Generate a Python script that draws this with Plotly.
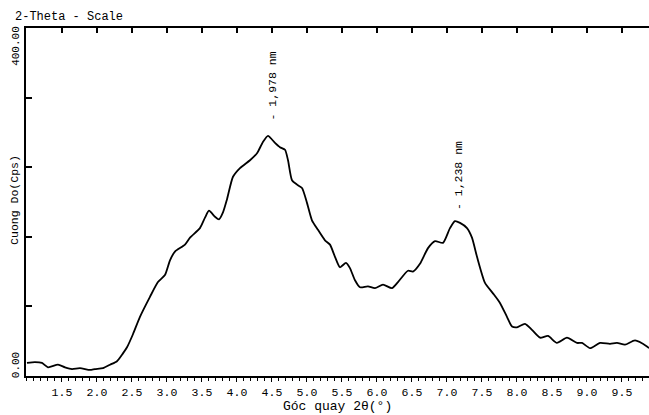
import plotly.graph_objects as go

two_theta = [1.0, 1.114, 1.214, 1.30, 1.443, 1.543, 1.643, 1.757, 1.90, 1.971, 2.086, 2.186, 2.286,
             2.371, 2.429, 2.514, 2.614, 2.757, 2.871, 2.971, 3.043, 3.114, 3.257, 3.329, 3.471,
             3.543, 3.60, 3.686, 3.743, 3.80, 3.857, 3.943, 4.043, 4.186, 4.286, 4.371, 4.443,
             4.543, 4.614, 4.686, 4.729, 4.786, 4.857, 4.929, 5.0, 5.071, 5.157, 5.257, 5.329,
             5.40, 5.471, 5.557, 5.614, 5.686, 5.757, 5.871, 5.971, 6.086, 6.214, 6.30, 6.443,
             6.514, 6.614, 6.729, 6.829, 6.943, 7.043, 7.114, 7.186, 7.286, 7.357, 7.429, 7.543,
             7.657, 7.757, 7.857, 7.929, 8.0, 8.114, 8.214, 8.329, 8.443, 8.571, 8.714, 8.857,
             8.929, 9.043, 9.186, 9.329, 9.429, 9.543, 9.686, 9.857, 9.886]
intensity = [15, 16, 15, 10, 13, 10, 8, 9, 7, 8, 9, 13, 17,
             26, 33, 48, 68, 91, 108, 116, 133, 143, 151, 159, 170,
             182, 190, 183, 180, 188, 203, 229, 239, 248, 256, 269, 276,
             268, 263, 260, 248, 225, 220, 216, 199, 179, 168, 156, 151,
             137, 125, 130, 124, 110, 102, 103, 101, 105, 101, 108, 121,
             120, 129, 147, 155, 153, 170, 178, 176, 170, 159, 137, 107,
             95, 84, 68, 57, 56, 60, 53, 44, 46, 38, 44, 38,
             38, 32, 38, 37, 38, 36, 41, 34, 32]

peak_x = [4.5, 7.157]
peak_y = [292, 189]
peak_labels = ["- 1,978 nm", "- 1,238 nm"]

x_ticks = [1.5, 2.0, 2.5, 3.0, 3.5, 4.0, 4.5, 5.0, 5.5, 6.0, 6.5, 7.0, 7.5, 8.0, 8.5, 9.0, 9.5]
x_range = [0.986, 9.886]
y_range = [0, 400]

FONT = "Courier New, Liberation Mono, monospace"

fig = go.Figure()
fig.add_trace(go.Scatter(x=two_theta, y=intensity, mode="lines",
                         line=dict(color="black", width=1.8, shape="spline", smoothing=0.6),
                         hoverinfo="skip", showlegend=False))
fig.add_trace(go.Scatter(x=[x_range[0]], y=[0], xaxis="x2", mode="markers",
                         marker=dict(opacity=0), showlegend=False, hoverinfo="skip"))

annotations = []
for px, py, lab in zip(peak_x, peak_y, peak_labels):
    annotations.append(dict(x=px, y=py, xref="x", yref="y", text=lab, textangle=-90,
                            showarrow=False, xanchor="center", yanchor="bottom",
                            font=dict(family=FONT, size=11.5, color="black")))
annotations += [
    dict(x=-0.021, y=1.032, xref="paper", yref="paper", text="2-Theta - Scale",
         showarrow=False, xanchor="left", yanchor="middle",
         font=dict(family=FONT, size=12, color="black")),
    dict(x=-0.0177, y=0.506, xref="paper", yref="paper", text="Cuong Do(Cps)",
         textangle=-90, showarrow=False, xanchor="center", yanchor="middle",
         font=dict(family=FONT, size=11.5, color="black")),
    dict(x=-0.016, y=-0.012, xref="paper", yref="paper", text="0.00",
         textangle=-90, showarrow=False, xanchor="center", yanchor="bottom",
         font=dict(family=FONT, size=11, color="black")),
    dict(x=-0.016, y=1.012, xref="paper", yref="paper", text="400.00",
         textangle=-90, showarrow=False, xanchor="center", yanchor="top",
         font=dict(family=FONT, size=11, color="black")),
    dict(x=0.5, y=-0.089, xref="paper", yref="paper", text="Góc quay 2θ(°)",
         showarrow=False, xanchor="center", yanchor="middle",
         font=dict(family=FONT, size=13, color="black")),
]

fig.update_layout(
    width=649, height=415,
    margin=dict(l=26, r=0, t=28, b=39),
    paper_bgcolor="white", plot_bgcolor="white",
    font=dict(family=FONT, size=11, color="black"),
    xaxis=dict(range=x_range, showline=True, linecolor="black", linewidth=2,
               ticks="outside", tickcolor="black", ticklen=4, tickwidth=1,
               tickvals=x_ticks, tickformat=".1f", showgrid=False, zeroline=False,
               minor=dict(dtick=0.1, tick0=0, ticks="outside", ticklen=3, tickcolor="black", showgrid=False),
               tickfont=dict(family=FONT, size=11.5, color="black")),
    xaxis2=dict(range=x_range, overlaying="x", side="top", showline=True, linecolor="black",
                linewidth=2, ticks="inside", ticklen=5, tickwidth=1.5, tickcolor="black",
                tick0=0, dtick=0.5, showticklabels=False, showgrid=False, zeroline=False),
    yaxis=dict(range=y_range, showline=True, linecolor="black", linewidth=2,
               ticks="inside", ticklen=6, tickwidth=1.5, tickcolor="black",
               tick0=0, dtick=80, showticklabels=False, showgrid=False, zeroline=False),
    annotations=annotations,
)

fig.write_html("out.html")
